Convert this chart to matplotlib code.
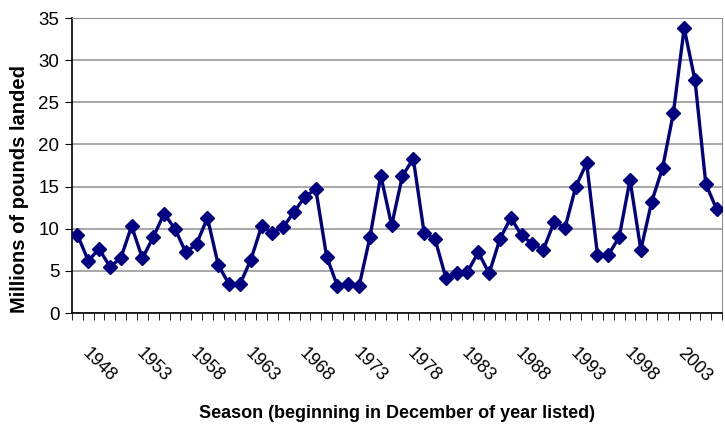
import numpy as np
import matplotlib.pyplot as plt
from matplotlib.ticker import MultipleLocator, FixedLocator

plt.rcParams['font.family'] = ['Liberation Sans', 'DejaVu Sans']

# landings per season, 1946-2005
years = np.arange(1946, 2006)
landed = [9.3, 6.2, 7.6, 5.5, 6.5, 10.3, 6.5, 9.0, 11.8, 10.0,
          7.2, 8.2, 11.3, 5.7, 3.4, 3.4, 6.3, 10.3, 9.5, 10.2,
          12.0, 13.8, 14.7, 6.7, 3.2, 3.4, 3.2, 9.0, 16.3, 10.4,
          16.3, 18.3, 9.5, 8.8, 4.2, 4.7, 4.9, 7.2, 4.7, 8.8,
          11.3, 9.2, 8.2, 7.5, 10.8, 10.1, 15.0, 17.8, 6.9, 6.9,
          9.0, 15.8, 7.5, 13.2, 17.2, 23.7, 33.8, 27.6, 15.3, 12.3]
label_years = list(range(1948, 2006, 5))

fig = plt.figure(figsize=(7.25, 4.25), dpi=100)
ax = fig.add_axes([0.0993, 0.2635, 0.8967, 0.6941])

ax.plot(years, landed, color='#000080', lw=2.4, marker='D', ms=7.5, zorder=3)

ax.set_xlim(1945.5, 2005.5)
ax.set_ylim(0, 35)
ax.yaxis.set_major_locator(MultipleLocator(5))
ax.grid(axis='y', color='#a0a0a0', lw=1.3)
ax.set_axisbelow(True)

# tick marks at category borders, labels every 5th season
ax.xaxis.set_minor_locator(FixedLocator(np.arange(1945.5, 2006, 1)))
ax.xaxis.set_major_locator(FixedLocator(label_years))
ax.tick_params(axis='x', which='major', length=0, pad=23)
ax.tick_params(axis='x', which='minor', length=5, direction='out')
ax.tick_params(axis='y', length=5, direction='out', labelsize=13.5, pad=4)
for lbl in ax.get_xticklabels():
    lbl.set_rotation(-45)
    lbl.set_ha('center')
    lbl.set_va('top')
    lbl.set_fontsize(13)

for s in ['top', 'right']:
    ax.spines[s].set_color('#909090')
ax.spines['left'].set_linewidth(1.2)
ax.spines['bottom'].set_linewidth(1.2)

ax.set_xlabel('Season (beginning in December of year listed)', fontsize=13,
              fontweight='bold', va='center')
ax.xaxis.set_label_coords(0.5, -0.339)
ax.set_ylabel('Millions of pounds landed', fontsize=14.5, fontweight='bold',
              va='center')
ax.yaxis.set_label_coords(-0.08, 0.42)

plt.savefig('out.png')
plt.close()
